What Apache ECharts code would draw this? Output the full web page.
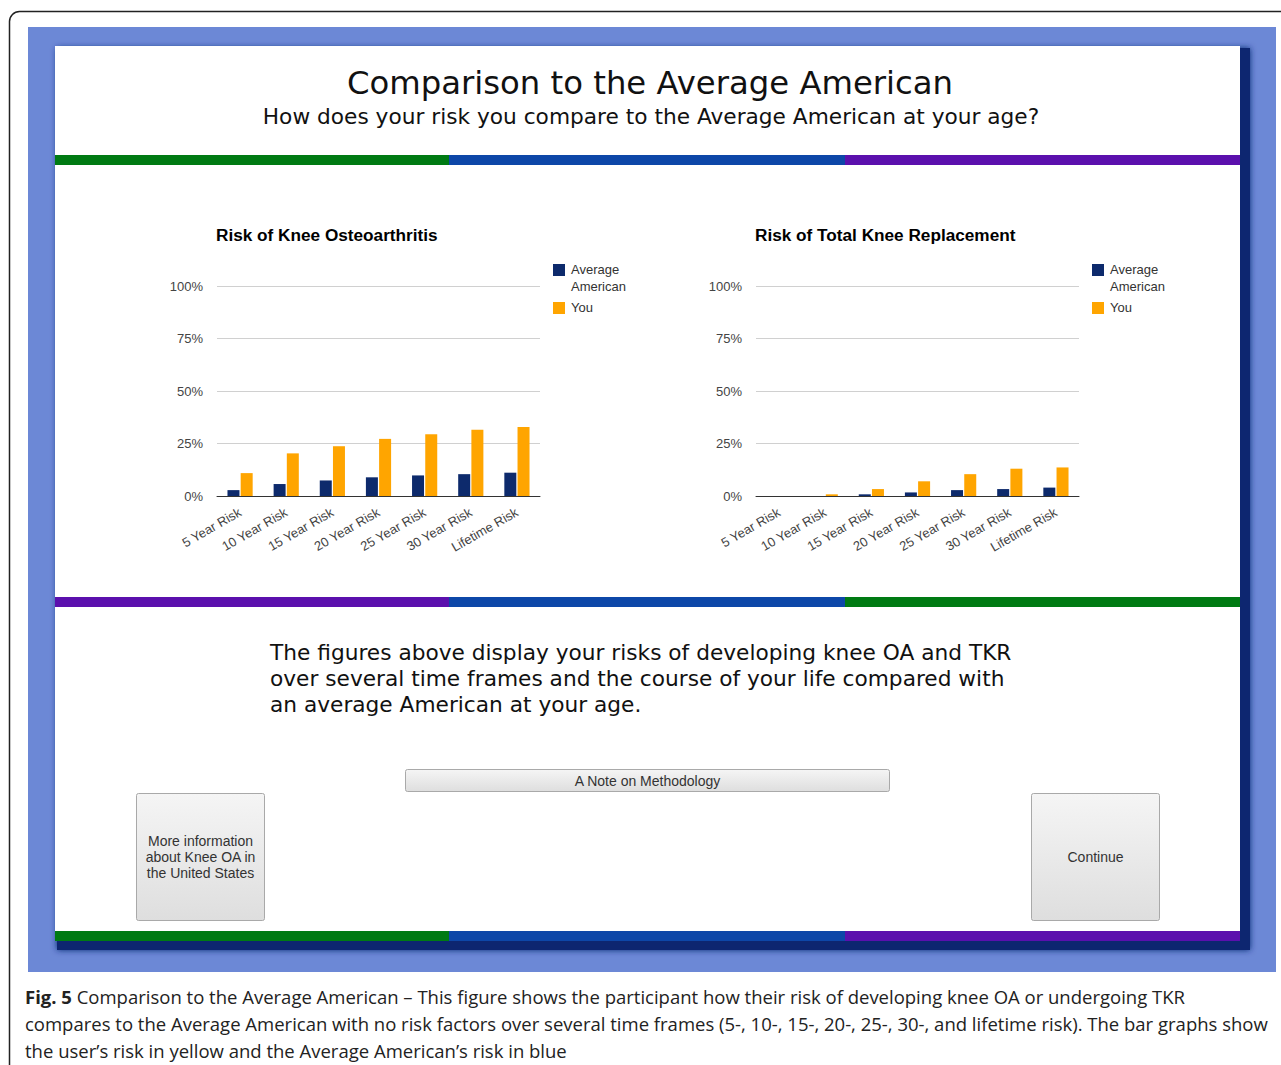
<!DOCTYPE html>
<html>
<head>
<meta charset="utf-8">
<title>Comparison to the Average American</title>
<script src="https://cdn.jsdelivr.net/npm/echarts@6/dist/echarts.min.js"></script>
<style>
  html, body { margin: 0; padding: 0; background: #fff; }
  #chart { width: 1281px; height: 1065px; }
</style>
</head>
<body>
<div id="chart"></div>
<script>
// chart data (percent)
const categories = ['5 Year Risk', '10 Year Risk', '15 Year Risk', '20 Year Risk', '25 Year Risk', '30 Year Risk', 'Lifetime Risk']
const oaAverage = [2.8, 5.7, 7.4, 8.9, 9.8, 10.4, 11.1]
const oaYou = [10.9, 20.3, 23.7, 27.2, 29.4, 31.5, 32.9]
const tkrAverage = [0, 0, 0.8, 1.7, 2.8, 3.3, 4.0]
const tkrYou = [0, 0.8, 3.3, 7.0, 10.4, 13.0, 13.6]
const yTicks = [0, 25, 50, 75, 100]
const chartTitles = ['Risk of Knee Osteoarthritis', 'Risk of Total Knee Replacement']
const seriesNames = ['Average American', 'You']

const NAVY = '#0d2a6c'
const ORANGE = '#ffa500'
const GREEN = '#007a13'
const BLUE = '#0d47a8'
const PURPLE = '#5b10ad'
const sans = 'Liberation Sans, Arial, sans-serif'
const verdana = 'DejaVu Sans, Verdana, sans-serif'

const myChart = echarts.init(document.getElementById('chart'), null, { renderer: 'svg' })

// colour bands across the white panel
function stripe(y, colors) {
  const xs = [55, 449, 845, 1240]
  return colors.map((c, i) => ({
    type: 'rect', silent: true,
    shape: { x: xs[i], y: y, width: xs[i + 1] - xs[i], height: 10 },
    style: { fill: c }
  }))
}

function button(x, y, w, h, text) {
  return [{
    type: 'rect',
    shape: { x: x, y: y, width: w, height: h, r: 2 },
    style: {
      fill: new echarts.graphic.LinearGradient(0, 0, 0, 1, [
        { offset: 0, color: '#f5f5f5' }, { offset: 1, color: '#dedede' }
      ]),
      stroke: '#a9a9a9', lineWidth: 1
    }
  }, {
    type: 'text',
    x: x + w / 2, y: y + h / 2,
    style: {
      text: text, fill: '#333', font: '14px ' + sans,
      align: 'center', verticalAlign: 'middle', lineHeight: 16
    }
  }]
}

function legendItems(x) {
  return [
    { type: 'rect', shape: { x: x, y: 264, width: 12, height: 12 }, style: { fill: NAVY } },
    { type: 'text', x: x + 18, y: 261, style: { text: 'Average\nAmerican', fill: '#333', font: '13px ' + sans, lineHeight: 17 } },
    { type: 'rect', shape: { x: x, y: 302, width: 12, height: 12 }, style: { fill: ORANGE } },
    { type: 'text', x: x + 18, y: 299, style: { text: seriesNames[1], fill: '#333', font: '13px ' + sans, lineHeight: 17 } }
  ]
}

const graphics = [
  // page border
  { type: 'rect', shape: { x: 9.5, y: 11.5, width: 1400, height: 1200, r: [10, 0, 0, 0] },
    style: { fill: 'none', stroke: '#222', lineWidth: 1.5 } },
  // blue frame
  { type: 'rect', shape: { x: 28, y: 27, width: 1248, height: 945 }, style: { fill: '#6c88d6' } },
  // dark shadow under the white panel
  { type: 'rect', shape: { x: 57, y: 48, width: 1193, height: 902 },
    style: { fill: '#0b2570', shadowBlur: 6, shadowColor: '#0b2570' } },
  { type: 'rect', shape: { x: 55, y: 46, width: 1185, height: 894 }, style: { fill: '#fff' } },
  ...stripe(155, [GREEN, BLUE, PURPLE]),
  ...stripe(597, [PURPLE, BLUE, GREEN]),
  ...stripe(931, [GREEN, BLUE, PURPLE]),
  { type: 'text', x: 650, y: 83, style: {
    text: 'Comparison to the Average American', fill: '#111', font: '32.3px ' + verdana,
    align: 'center', verticalAlign: 'middle' } },
  { type: 'text', x: 651, y: 116, style: {
    text: 'How does your risk you compare to the Average American at your age?', fill: '#111',
    font: '21.7px ' + verdana, align: 'center', verticalAlign: 'middle' } },
  ...legendItems(553),
  ...legendItems(1092),
  { type: 'text', x: 270, y: 639, style: {
    text: 'The figures above display your risks of developing knee OA and TKR\nover several time frames and the course of your life compared with\nan average American at your age.',
    fill: '#111', font: '21.7px ' + verdana, lineHeight: 26 } },
  ...button(405.5, 769.5, 484, 22, 'A Note on Methodology'),
  ...button(136.5, 793.5, 128, 127, 'More information\nabout Knee OA in\nthe United States'),
  ...button(1031.5, 793.5, 128, 127, 'Continue'),
  { type: 'text', x: 25, y: 983, style: {
    text: '{b|Fig. 5} Comparison to the Average American \u2013 This figure shows the participant how their risk of developing knee OA or undergoing TKR\ncompares to the Average American with no risk factors over several time frames (5-, 10-, 15-, 20-, 25-, 30-, and lifetime risk). The bar graphs show\nthe user\u2019s risk in yellow and the Average American\u2019s risk in blue',
    fill: '#222', font: '18.5px Open Sans, sans-serif', lineHeight: 27,
    rich: { b: { fontWeight: 'bold', fontSize: 18.5, fontFamily: 'Open Sans, sans-serif', fill: '#222', lineHeight: 27 } } } }
]

function grid(left) {
  return { left: left, top: 286, width: 323, height: 210, containLabel: false }
}

function xAxis(i) {
  return {
    type: 'category', gridIndex: i, data: categories,
    axisTick: { show: false },
    axisLine: { lineStyle: { color: '#333', width: 1 } },
    axisLabel: { interval: 0, rotate: 30, color: '#444', fontSize: 13, fontFamily: sans, margin: 15 }
  }
}

function yAxis(i) {
  return {
    type: 'value', gridIndex: i, min: yTicks[0], max: yTicks[yTicks.length - 1], interval: 25,
    axisLine: { show: false }, axisTick: { show: false },
    axisLabel: { formatter: '{value}%', color: '#444', fontSize: 13, fontFamily: sans, margin: 14 },
    splitLine: { lineStyle: { color: '#d0d0d0', width: 1 } }
  }
}

function bars(i, name, data, color) {
  return {
    name: name, type: 'bar', xAxisIndex: i, yAxisIndex: i, data: data,
    barWidth: 12, barGap: '10%', itemStyle: { color: color }, silent: true
  }
}

const option = {
  animation: false,
  backgroundColor: '#fff',
  title: chartTitles.map((t, i) => ({
    text: t, left: i === 0 ? 216 : 755, top: 226, padding: 0,
    textStyle: { fontSize: 17.2, fontWeight: 'bold', color: '#000', fontFamily: sans }
  })),
  grid: [grid(217), grid(756)],
  xAxis: [xAxis(0), xAxis(1)],
  yAxis: [yAxis(0), yAxis(1)],
  series: [
    bars(0, seriesNames[0], oaAverage, NAVY),
    bars(0, seriesNames[1], oaYou, ORANGE),
    bars(1, seriesNames[0], tkrAverage, NAVY),
    bars(1, seriesNames[1], tkrYou, ORANGE)
  ],
  graphic: { elements: graphics }
}

myChart.setOption(option)
</script>
</body>
</html>
